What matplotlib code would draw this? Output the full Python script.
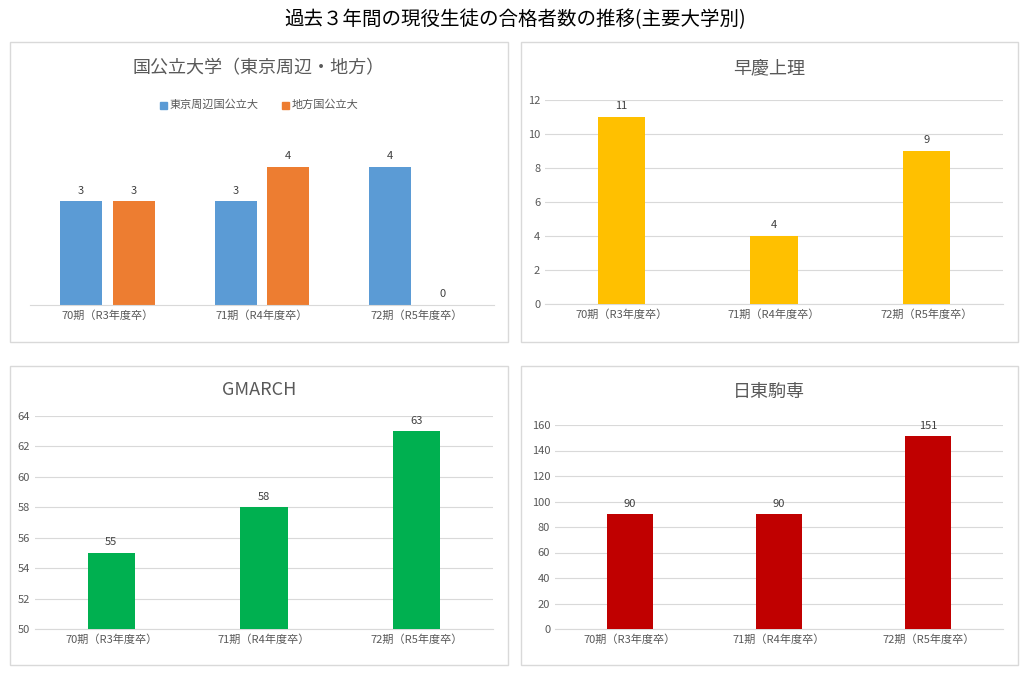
import numpy as np
import matplotlib.pyplot as plt
from matplotlib.patches import Rectangle

plt.rcParams['font.family'] = 'Noto Sans CJK JP'

W, H = 1031, 679
categories = ['70期（R3年度卒）', '71期（R4年度卒）', '72期（R5年度卒）']
tokyo = [3, 3, 4]
chiho = [3, 4, 0]
soukei = [11, 4, 9]
gmarch = [55, 58, 63]
nittou = [90, 90, 151]

fig = plt.figure(figsize=(W / 100, H / 100), dpi=100)
fig.text(0.5, 1 - 20 / H, '過去３年間の現役生徒の合格者数の推移(主要大学別)', ha='center', va='center', fontsize=14)

def box(x0, y0, x1, y1):
    fig.patches.append(Rectangle((x0 / W, 1 - y1 / H), (x1 - x0) / W, (y1 - y0) / H,
                                 transform=fig.transFigure, fill=False, ec='#d9d9d9', lw=1))

def axes(x0, y0, x1, y1):
    ax = fig.add_axes([x0 / W, 1 - y1 / H, (x1 - x0) / W, (y1 - y0) / H])
    for s in ['top', 'right', 'left']:
        ax.spines[s].set_visible(False)
    ax.spines['bottom'].set_color('#d9d9d9')
    ax.tick_params(length=0, labelsize=8, colors='#595959')
    ax.set_xticks(range(3))
    ax.set_xticklabels(categories)
    ax.set_xlim(-0.5, 2.5)
    return ax

def labels(ax, bars, vals, off):
    for b, v in zip(bars, vals):
        ax.text(b.get_x() + b.get_width() / 2, b.get_height() + off if v else off,
                str(v), ha='center', va='bottom', fontsize=8, color='#404040')

box(10, 42, 508, 342); box(521, 42, 1018, 342)
box(10, 366, 508, 665); box(521, 366, 1018, 665)

# top-left
ax = axes(30, 132, 494, 305)
x = np.arange(3)
b1 = ax.bar(x - 0.17, tokyo, 0.27, color='#5b9bd5')
b2 = ax.bar(x + 0.17, chiho, 0.27, color='#ed7d31')
ax.set_ylim(0, 5)
ax.set_yticks([])
ax.bar_label(b1, padding=4, fontsize=8, color='#404040')
ax.bar_label(b2, padding=4, fontsize=8, color='#404040')
fig.text(259 / W, 1 - 68 / H, '国公立大学（東京周辺・地方）', ha='center', va='center', fontsize=13, color='#595959')
for lx, c, t in [(160, '#5b9bd5', '東京周辺国公立大'), (282, '#ed7d31', '地方国公立大')]:
    fig.patches.append(Rectangle((lx / W, 1 - 109 / H), 7 / W, 7 / H, transform=fig.transFigure, color=c))
    fig.text((lx + 10) / W, 1 - 105 / H, t, va='center', fontsize=8, color='#595959')

def simple(x0, y0, x1, y1, vals, color, lo, hi, step, title, tx, ty):
    ax = axes(x0, y0, x1, y1)
    b = ax.bar(range(3), vals, 0.31, color=color, zorder=3)
    ax.set_ylim(lo, hi)
    ax.set_yticks(np.arange(lo, hi + 1, step))
    ax.grid(axis='y', color='#d9d9d9', lw=0.8, zorder=0)
    ax.bar_label(b, padding=4, fontsize=8, color='#404040')
    fig.text(tx / W, 1 - ty / H, title, ha='center', va='center', fontsize=13, color='#595959')

simple(545, 100, 1003, 304, soukei, '#ffc000', 0, 12, 2, '早慶上理', 769, 68)
simple(35, 416, 493, 629, gmarch, '#00b050', 50, 64, 2, 'GMARCH', 259, 390)
simple(555, 425, 1003, 629, nittou, '#c00000', 0, 160, 20, '日東駒専', 769, 392)

fig.savefig('out.png', dpi=100)
